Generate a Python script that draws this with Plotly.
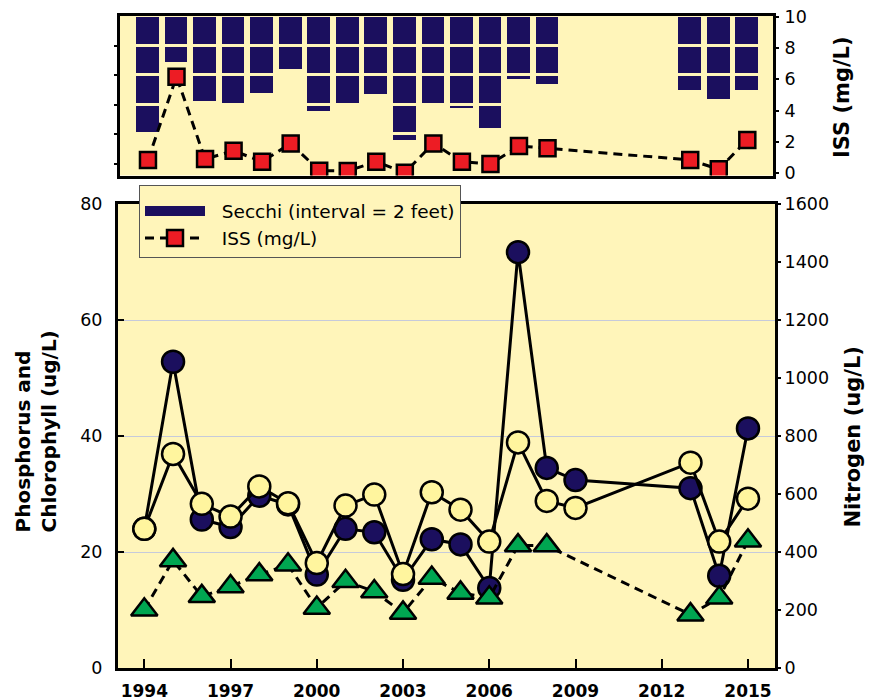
import plotly.graph_objects as go

# ---------------- data ----------------
years_top = [1994, 1995, 1996, 1997, 1998, 1999, 2000, 2001, 2002, 2003, 2004,
             2005, 2006, 2007, 2008, 2013, 2014, 2015]
secchi_ft = [8.0, 3.23, 5.9, 6.0, 5.36, 3.75, 6.6, 6.0, 5.44, 8.54, 6.0,
             6.35, 7.7, 4.43, 4.77, 5.15, 5.74, 5.15]
iss_mgL = [0.85, 6.17, 0.91, 1.44, 0.74, 1.91, 0.17, 0.15, 0.74, 0.04, 1.91,
           0.74, 0.59, 1.74, 1.6, 0.85, 0.26, 2.13]

years_pc = [1994, 1995, 1996, 1997, 1998, 1999, 2000, 2001, 2002, 2003, 2004,
            2005, 2006, 2007, 2008, 2009, 2013, 2014, 2015]
phosphorus = [24.0, 52.8, 25.6, 24.3, 29.7, 28.2, 16.1, 24.0, 23.4, 15.2, 22.2,
              21.3, 13.8, 71.7, 34.5, 32.4, 31.0, 15.9, 41.3]
chlorophyll = [24.0, 36.9, 28.3, 26.1, 31.3, 28.4, 18.1, 28.0, 29.9, 16.2, 30.3,
               27.3, 21.8, 38.9, 28.8, 27.6, 35.4, 21.8, 29.2]

years_n = [1994, 1995, 1996, 1997, 1998, 1999, 2000, 2001, 2002, 2003, 2004,
           2005, 2006, 2007, 2008, 2013, 2014, 2015]
nitrogen = [201, 371, 247, 281, 322, 356, 207, 299, 264, 190, 310,
            259, 242, 422, 422, 184, 242, 439]

x_ticks = [1994, 1997, 2000, 2003, 2006, 2009, 2012, 2015]
secchi_interval = 2

# ---------------- style ----------------
BG = "#fff5ba"
NAVY = "#1b0f5e"
RED = "#ed1c24"
GREEN = "#00a651"
PALE = "#fff59e"
FONT = "DejaVu Sans"

fig = go.Figure()

# Secchi bars, split into 2-foot intervals (stacked segments)
n_seg = int(max(secchi_ft) // secchi_interval) + 1
for k in range(n_seg):
    seg = []
    for d in secchi_ft:
        v = min(secchi_interval, d - k * secchi_interval)
        seg.append(v if v > 0 else None)
    fig.add_trace(go.Bar(
        x=years_top, y=seg, xaxis="x2", yaxis="y2", width=0.9,
        marker=dict(color=NAVY, line=dict(color=BG, width=3)),
        showlegend=False, hoverinfo="skip"))

# legend stand-in for Secchi
fig.add_trace(go.Scatter(
    x=[None], y=[None], xaxis="x2", yaxis="y2", mode="lines",
    line=dict(color=NAVY, width=14), name="\u00a0\u00a0Secchi (interval = 2 feet)"))

# ISS
fig.add_trace(go.Scatter(
    x=years_top, y=iss_mgL, xaxis="x2", yaxis="y3", mode="lines+markers",
    line=dict(color="black", width=3, dash="9px,6px"),
    marker=dict(symbol="square", size=16, color=RED, line=dict(color="black", width=2.5)),
    name="\u00a0\u00a0ISS (mg/L)"))

# bottom panel
fig.add_trace(go.Scatter(
    x=years_pc, y=phosphorus, xaxis="x", yaxis="y", mode="lines+markers",
    line=dict(color="black", width=3),
    marker=dict(symbol="circle", size=22, color=NAVY, line=dict(color="black", width=2.5)),
    showlegend=False, name="Phosphorus"))
fig.add_trace(go.Scatter(
    x=years_pc, y=chlorophyll, xaxis="x", yaxis="y", mode="lines+markers",
    line=dict(color="black", width=3),
    marker=dict(symbol="circle", size=22, color=PALE, line=dict(color="black", width=2.5)),
    showlegend=False, name="Chlorophyll"))
fig.add_trace(go.Scatter(
    x=years_n, y=nitrogen, xaxis="x", yaxis="y4", mode="lines+markers",
    line=dict(color="black", width=3, dash="9px,6px"),
    marker=dict(symbol="triangle-up", size=23, color=GREEN, line=dict(color="black", width=2.5)),
    showlegend=False, name="Nitrogen"))

# page geometry (the page body has an 8px margin)
OFF = 8
W, H = 879 - OFF, 700 - OFF
PL, PR, PT, PB = 118, 775, 16, 668          # plot area in page pixels
pw, ph = PR - PL, PB - PT

def px_x(p):
    return (p - PL) / pw

def px_y(p):
    return (PB - p) / ph

tickfont = dict(family=FONT, size=17.5, color="black")

fig.update_layout(
    width=W, height=H,
    margin=dict(l=PL - OFF, r=W - (PR - OFF), t=PT - OFF, b=H - (PB - OFF), autoexpand=False),
    paper_bgcolor="white", plot_bgcolor=BG,
    barmode="stack", bargap=0,
    font=dict(family=FONT, color="black"),
    xaxis=dict(domain=[0, 1], range=[1993.085, 2015.94], tickvals=x_ticks,
               ticks="inside", ticklen=9, tickwidth=2, tickcolor="black",
               showline=True, linewidth=3, linecolor="black", mirror=True,
               showgrid=False, zeroline=False, automargin=False,
               ticklabelstandoff=6, ticklabeloverflow="allow",
               tickfont=dict(family=FONT, size=17, color="black", weight="bold"),
               anchor="y"),
    yaxis=dict(domain=[0, px_y(204)], range=[0, 80], tickvals=[0, 20, 40, 60, 80],
               ticks="inside", ticklen=6, tickwidth=2, tickcolor="black",
               showline=True, linewidth=3, linecolor="black", mirror=True,
               showgrid=True, gridcolor="#c6cadb", gridwidth=1, zeroline=False,
               tickfont=tickfont, anchor="x", ticklabelstandoff=9, automargin=False,
               ticklabeloverflow="allow"),
    yaxis4=dict(overlaying="y", side="right", range=[0, 1600],
                tickvals=[0, 200, 400, 600, 800, 1000, 1200, 1400, 1600],
                ticks="outside", ticklen=5, tickwidth=2, tickcolor="black",
                showgrid=False, zeroline=False, tickfont=tickfont, anchor="x",
                automargin=False, ticklabeloverflow="allow"),
    xaxis2=dict(domain=[px_x(120), px_x(773)], range=[1993.02, 2015.90],
                showticklabels=False, ticks="", anchor="y2",
                showline=True, linewidth=3, linecolor="black", mirror=True,
                showgrid=False, zeroline=False, automargin=False),
    yaxis2=dict(domain=[px_y(175.5), 1], range=[10.81, 0], tickvals=[2, 4, 6, 8, 10],
                showticklabels=False, ticks="outside", ticklen=3, tickwidth=2,
                tickcolor="black", showline=True, linewidth=3, linecolor="black",
                mirror=True, showgrid=False, zeroline=False, anchor="x2",
                automargin=False),
    yaxis3=dict(overlaying="y2", side="right", range=[-0.14, 10.04],
                tickvals=[0, 2, 4, 6, 8, 10], ticks="outside", ticklen=5,
                tickwidth=2, tickcolor="black", showgrid=False, zeroline=False,
                tickfont=tickfont, anchor="x2", automargin=False,
                ticklabelstandoff=2, ticklabeloverflow="allow"),
    legend=dict(x=px_x(139), y=px_y(185), xanchor="left", yanchor="top",
                bgcolor=BG, bordercolor="#555555", borderwidth=1,
                font=dict(family=FONT, size=18.5, color="black"),
                title=dict(text="\u00a0", font=dict(size=5)),
                itemwidth=60, traceorder="normal"),
    annotations=[
        dict(text="Phosphorus and<br>Chlorophyll (ug/L)", x=px_x(36), y=px_y(431.5),
             xref="paper", yref="paper", showarrow=False, textangle=-90, align="left",
             xanchor="center", yanchor="middle",
             font=dict(family=FONT, size=20, color="black", weight="bold")),
        dict(text="Nitrogen (ug/L)", x=px_x(852), y=px_y(437.5),
             xref="paper", yref="paper", showarrow=False, textangle=-90,
             xanchor="center", yanchor="middle",
             font=dict(family=FONT, size=21, color="black", weight="bold")),
        dict(text="ISS (mg/L)", x=px_x(842), y=px_y(97),
             xref="paper", yref="paper", showarrow=False, textangle=-90,
             xanchor="center", yanchor="middle",
             font=dict(family=FONT, size=21, color="black", weight="bold")),
    ],
)

fig.write_html("out.html")
